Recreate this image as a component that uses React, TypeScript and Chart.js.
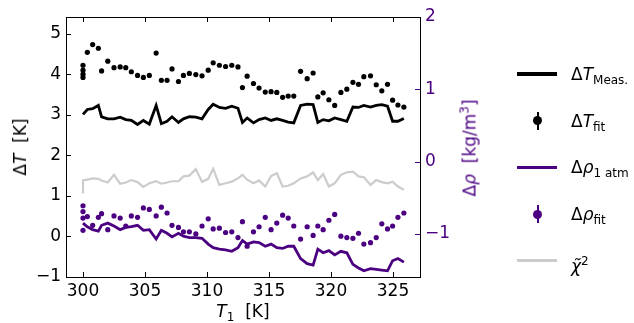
import React, { useEffect, useRef } from 'react';
import { Chart, registerables } from 'chart.js';

Chart.register(...registerables);

// ---------- data ----------
const T1 = [300.0, 300.35, 300.78, 301.24, 301.5, 302.0, 302.5, 303.0, 303.45, 303.9,
  304.4, 304.87, 305.35, 305.9, 306.32, 306.78, 307.18, 307.7, 308.1, 308.58,
  309.1, 309.6, 310.1, 310.5, 311.0, 311.5, 312.0, 312.5, 312.86, 313.24,
  313.75, 314.2, 314.7, 315.17, 315.63, 316.1, 316.55, 317.0, 317.55, 318.08,
  318.56, 318.94, 319.37, 319.83, 320.3, 320.8, 321.28, 321.77, 322.22, 322.65,
  323.19, 323.65, 324.1, 324.56, 324.97, 325.4, 325.88];

const dTMeas = [3.01, 3.13, 3.15, 3.23, 2.95, 2.90, 2.90, 2.94, 2.88, 2.86,
  2.76, 2.86, 2.77, 3.23, 2.78, 2.84, 2.95, 2.81, 2.90, 2.95,
  2.94, 2.90, 3.13, 3.26, 3.18, 3.16, 3.21, 3.16, 2.81, 2.92,
  2.80, 2.88, 2.92, 2.86, 2.90, 2.86, 2.82, 2.80, 3.23, 3.26,
  3.25, 2.81, 2.88, 2.85, 2.92, 2.88, 2.84, 3.19, 3.18, 3.23,
  3.19, 3.23, 3.25, 3.21, 2.84, 2.84, 2.91];

const dTFit = [4.00, 4.54, 4.73, 4.64, 4.08, 4.32, 4.16, 4.18, 4.16, 4.06,
  3.97, 3.92, 3.97, 4.52, 3.85, 3.85, 4.13, 3.82, 3.97, 4.02,
  3.99, 3.96, 4.10, 4.28, 4.22, 4.19, 4.22, 4.18, 3.67, 3.95,
  3.77, 3.66, 3.56, 3.57, 3.55, 3.43, 3.46, 3.46, 4.07, 3.89,
  4.03, 3.44, 3.54, 3.37, 3.23, 3.55, 3.63, 3.80, 3.75, 3.94,
  3.96, 3.74, 3.59, 3.75, 3.36, 3.24, 3.19];
const dTFitRepeatsAt300 = [4.22, 4.10, 3.92];

const rhoAtm = [-0.85, -0.90, -0.94, -0.96, -0.88, -0.85, -0.89, -0.94, -0.91, -0.90,
  -0.88, -0.95, -0.94, -1.07, -0.95, -0.99, -1.04, -0.99, -1.03, -1.05,
  -1.05, -1.06, -1.14, -1.19, -1.21, -1.22, -1.24, -1.19, -1.09, -1.14,
  -1.11, -1.12, -1.17, -1.14, -1.19, -1.20, -1.17, -1.17, -1.34, -1.41,
  -1.43, -1.21, -1.26, -1.23, -1.29, -1.24, -1.26, -1.42, -1.47, -1.51,
  -1.48, -1.49, -1.50, -1.51, -1.37, -1.34, -1.39];

const rhoFit = [-0.78, -0.76, -0.88, -0.77, -0.72, -0.94, -0.75, -0.78, -0.89, -0.75,
  -0.77, -0.64, -0.66, -0.75, -0.63, -0.71, -0.88, -0.91, -0.97, -0.97,
  -1.00, -0.89, -0.79, -0.93, -0.92, -0.98, -0.97, -1.05, -0.83, -1.17,
  -0.97, -0.90, -0.77, -0.94, -0.85, -0.74, -0.78, -0.89, -1.07, -0.90,
  -1.02, -0.89, -0.94, -0.81, -0.73, -1.03, -1.05, -1.06, -0.99, -1.14,
  -1.12, -1.05, -0.86, -0.93, -0.89, -0.77, -0.71];
const rhoFitRepeatsAt300 = [-0.61, -0.69, -0.95];

const chi2 = [1.38, 1.40, 1.43, 1.42, 1.38, 1.33, 1.52, 1.30, 1.33, 1.39,
  1.34, 1.22, 1.31, 1.36, 1.30, 1.33, 1.36, 1.36, 1.48, 1.50,
  1.66, 1.35, 1.42, 1.67, 1.27, 1.31, 1.35, 1.43, 1.52, 1.40,
  1.31, 1.38, 1.23, 1.49, 1.56, 1.23, 1.25, 1.31, 1.43, 1.48,
  1.58, 1.39, 1.54, 1.23, 1.31, 1.52, 1.58, 1.60, 1.48, 1.46,
  1.27, 1.39, 1.34, 1.31, 1.35, 1.23, 1.15];
const chi2RepeatsAt300 = [1.06];

const xTickValues = [300, 305, 310, 315, 320, 325];
const yTickValues = [-1, 0, 1, 2, 3, 4, 5];
const y2TickValues = [-1, 0, 1, 2];

// ---------- styling ----------
const PURPLE = '#4b0082';
const GRAY = '#cccccc';
const FONT = "'DejaVu Sans', sans-serif";

const fmt = (v: number) => String(v).replace('-', '\u2212');

const mplTicks = {
  id: 'mplTicks',
  afterDraw(chart: any) {
    const { ctx, chartArea: a, scales } = chart;
    const L = 5;
    ctx.save();
    ctx.lineWidth = 1;
    ctx.strokeStyle = '#000';
    ctx.beginPath();
    scales.x.ticks.forEach((t: any) => {
      const px = Math.round(scales.x.getPixelForValue(t.value)) + 0.5;
      ctx.moveTo(px, a.bottom); ctx.lineTo(px, a.bottom - L);
      ctx.moveTo(px, a.top); ctx.lineTo(px, a.top + L);
    });
    scales.y.ticks.forEach((t: any) => {
      const py = Math.round(scales.y.getPixelForValue(t.value)) + 0.5;
      ctx.moveTo(a.left, py); ctx.lineTo(a.left + L, py);
    });
    ctx.stroke();
    ctx.strokeStyle = PURPLE;
    ctx.beginPath();
    scales.y2.ticks.forEach((t: any) => {
      const py = Math.round(scales.y2.getPixelForValue(t.value)) + 0.5;
      ctx.moveTo(a.right, py); ctx.lineTo(a.right - L, py);
    });
    ctx.stroke();
    ctx.strokeStyle = '#000';
    ctx.strokeRect(Math.round(a.left) + 0.5, Math.round(a.top) + 0.5,
      Math.round(a.right - a.left), Math.round(a.bottom - a.top));
    ctx.restore();
  },
};

const pts = (xs: number[], ys: number[]) => xs.map((x, i) => ({ x, y: ys[i] }));
const at300 = (ys: number[]) => ys.map((y) => ({ x: T1[0], y }));

const legendRows = [
  { kind: 'line', color: '#000', sym: 'T', sub: 'Meas.' },
  { kind: 'dot', color: '#000', sym: 'T', sub: 'fit' },
  { kind: 'line', color: PURPLE, sym: '\u03c1', sub: '1 atm' },
  { kind: 'dot', color: PURPLE, sym: '\u03c1', sub: 'fit' },
  { kind: 'chi', color: GRAY, sym: '\u03c7\u0303', sub: '2' },
];

const noGrid = { display: false, drawTicks: false };

export default function App() {
  const ref = useRef<HTMLCanvasElement | null>(null);

  useEffect(() => {
    const canvas = ref.current;
    if (!canvas) return;
    const chart = new Chart(canvas, {
      type: 'scatter',
      data: {
        datasets: [
          {
            label: 'dT meas', data: pts(T1, dTMeas), yAxisID: 'y', showLine: true,
            borderColor: '#000', borderWidth: 2.8, pointRadius: 0, order: 3,
          },
          {
            label: 'dT fit', data: [...at300(dTFitRepeatsAt300), ...pts(T1, dTFit)], yAxisID: 'y',
            backgroundColor: '#000', borderWidth: 0, pointRadius: 2.6, order: 1,
          },
          {
            label: 'rho atm', data: pts(T1, rhoAtm), yAxisID: 'y2', showLine: true,
            borderColor: PURPLE, borderWidth: 2.8, pointRadius: 0, order: 4,
          },
          {
            label: 'rho fit', data: [...at300(rhoFitRepeatsAt300), ...pts(T1, rhoFit)], yAxisID: 'y2',
            backgroundColor: PURPLE, borderWidth: 0, pointRadius: 2.6, order: 2,
          },
          {
            label: 'chi2', data: [...at300(chi2RepeatsAt300), ...pts(T1, chi2)], yAxisID: 'y', showLine: true,
            borderColor: GRAY, borderWidth: 2.2, pointRadius: 0, order: 5,
          },
        ],
      },
      options: {
        responsive: false,
        animation: false,
        devicePixelRatio: 1,
        events: [],
        layout: { padding: { top: 17, left: 0, right: 0, bottom: 0 } },
        plugins: { legend: { display: false }, tooltip: { enabled: false } },
        scales: {
          x: {
            type: 'linear', position: 'bottom', min: 298.63, max: 327.18,
            grid: noGrid, border: { display: false },
            afterBuildTicks: (s: any) => { s.ticks = xTickValues.map((value) => ({ value })); },
            afterFit: (s: any) => { s.height = 46; },
            ticks: { color: '#000', padding: 4, maxRotation: 0, font: { family: FONT, size: 17 }, callback: (v: any) => fmt(v) },
          },
          y: {
            type: 'linear', position: 'left', min: -1, max: 5.41,
            grid: noGrid, border: { display: false },
            afterBuildTicks: (s: any) => { s.ticks = yTickValues.map((value) => ({ value })); },
            afterFit: (s: any) => { s.width = 66; },
            ticks: { color: '#000', padding: 5, font: { family: FONT, size: 17 }, callback: (v: any) => fmt(v) },
          },
          y2: {
            type: 'linear', position: 'right', min: -1.595, max: 2,
            grid: noGrid, border: { display: false },
            afterBuildTicks: (s: any) => { s.ticks = y2TickValues.map((value) => ({ value })); },
            afterFit: (s: any) => { s.width = 214; },
            ticks: { color: PURPLE, padding: 5, font: { family: FONT, size: 17 }, callback: (v: any) => fmt(v) },
          },
        },
      },
      plugins: [mplTicks],
    } as any);
    return () => chart.destroy();
  }, []);

  const base: React.CSSProperties = { position: 'absolute', fontFamily: FONT, fontSize: 17, whiteSpace: 'nowrap', lineHeight: '20px' };
  const subStyle: React.CSSProperties = { fontSize: 12, verticalAlign: '-4px' };

  return (
    <div style={{ position: 'fixed', left: 0, top: 0, width: 634, height: 323, background: '#fff' }}>
      <canvas ref={ref} width={634} height={323} style={{ position: 'absolute', left: 0, top: 0, width: 634, height: 323 }} />
      {/* axis titles */}
      <div style={{ ...base, left: 243, top: 301, transform: 'translateX(-50%)', color: '#000' }}>
        <i>T</i><span style={subStyle}>1</span>{'\u00a0\u00a0[K]'}
      </div>
      <div style={{ ...base, left: 20, top: 147, transform: 'translate(-50%,-50%) rotate(-90deg)', color: '#000' }}>
        {'\u0394'}<i>T</i>{'\u00a0\u00a0[K]'}
      </div>
      <div style={{ ...base, left: 467, top: 148, transform: 'translate(-50%,-50%) rotate(-90deg)', color: PURPLE }}>
        {'\u0394'}<i>{'\u03c1'}</i>{'\u00a0\u00a0[kg/m'}<span style={{ fontSize: 12, verticalAlign: '7px' }}>3</span>]
      </div>
      {/* legend */}
      {legendRows.map((r, i) => {
        const cy = 74 + i * 46.7;
        return (
          <React.Fragment key={i}>
            {r.kind === 'dot' ? (
              <>
                <div style={{ position: 'absolute', left: 536.5, top: cy - 9, width: 2, height: 18, background: r.color }} />
                <div style={{ position: 'absolute', left: 533, top: cy - 4.5, width: 9, height: 9, borderRadius: '50%', background: r.color }} />
              </>
            ) : (
              <div style={{ position: 'absolute', left: 517, top: cy - 1.7, width: 40, height: 3.4, background: r.color }} />
            )}
            <div style={{ ...base, left: 571, top: cy - 10, color: '#000' }}>
              {r.kind === 'chi' ? (
                <><i>{r.sym}</i><span style={{ fontSize: 12, verticalAlign: '7px' }}>{r.sub}</span></>
              ) : (
                <>{'\u0394'}<i>{r.sym}</i><span style={subStyle}>{r.sub}</span></>
              )}
            </div>
          </React.Fragment>
        );
      })}
    </div>
  );
}
